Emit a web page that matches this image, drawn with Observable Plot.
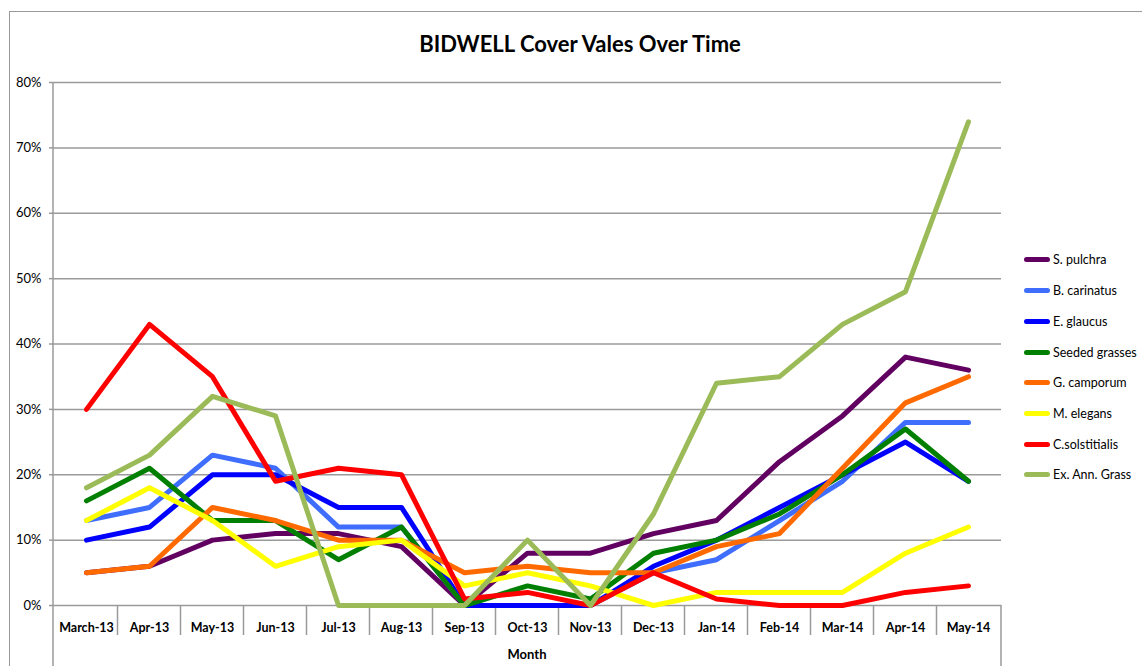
<!DOCTYPE html>
<html><head><meta charset="utf-8">
<script src="https://cdn.jsdelivr.net/npm/d3@7"></script>
<script src="https://cdn.jsdelivr.net/npm/@observablehq/plot@0.6"></script>
<style>
body{margin:0;background:#fff;font-family:Lato, "Liberation Sans", sans-serif;}
#wrap{position:relative;width:1142px;height:666px;overflow:hidden;background:#fff;}
#chart{position:absolute;left:0;top:0;}
#border{position:absolute;left:9px;top:11px;width:1200px;height:700px;border:1.5px solid #9a9a9a;box-sizing:border-box;pointer-events:none;}
#title{position:absolute;left:330px;width:500px;top:30px;text-align:center;font-weight:bold;font-size:22px;color:#000;}
#legend{position:absolute;left:1024px;top:244.6px;}
.item{height:30.7px;display:flex;align-items:center;font-size:12.5px;color:#000;white-space:nowrap;}
.sw{width:26px;height:5px;border-radius:3px;margin-right:3px;}
</style>
</head><body>
<div id="wrap">
  <div id="chart"></div>
  <div id="border"></div>
  <div id="title">BIDWELL Cover Vales Over Time</div>
  <div id="legend"></div>
</div>
<script>
// ---- data ----
const months = ["March-13","Apr-13","May-13","Jun-13","Jul-13","Aug-13","Sep-13","Oct-13","Nov-13","Dec-13","Jan-14","Feb-14","Mar-14","Apr-14","May-14"];
const seriesNames = ["S. pulchra","B. carinatus","E. glaucus","Seeded grasses","G. camporum","M. elegans","C.solstitialis","Ex. Ann. Grass"];
const sPulchra   = [5, 6, 10, 11, 11, 9, 0, 8, 8, 11, 13, 22, 29, 38, 36];
const bCarinatus = [13, 15, 23, 21, 12, 12, 0, 0, 0, 5, 7, 13, 19, 28, 28];
const eGlaucus   = [10, 12, 20, 20, 15, 15, 0, 0, 0, 6, 10, 15, 20, 25, 19];
const seededGrasses = [16, 21, 13, 13, 7, 12, 0, 3, 1, 8, 10, 14, 20, 27, 19];
const gCamporum  = [5, 6, 15, 13, 10, 10, 5, 6, 5, 5, 9, 11, 21, 31, 35];
const mElegans   = [13, 18, 13, 6, 9, 10, 3, 5, 3, 0, 2, 2, 2, 8, 12];
const cSolstitialis = [30, 43, 35, 19, 21, 20, 1, 2, 0, 5, 1, 0, 0, 2, 3];
const exAnnGrass = [18, 23, 32, 29, 0, 0, 0, 10, 0, 14, 34, 35, 43, 48, 74];
const yTicks = [0, 10, 20, 30, 40, 50, 60, 70, 80];
const xLabel = "Month";

// ---- styles ----
const seriesColors = ["#620062","#3F6EFE","#0000FF","#007F00","#FF6A00","#FFFF00","#FF0000","#9BBB59"];
const seriesValues = [sPulchra, bCarinatus, eGlaucus, seededGrasses, gCamporum, mElegans, cSolstitialis, exAnnGrass];

const tables = seriesValues.map((vals, i) => months.map((m, j) => ({series: seriesNames[i], month: m, value: vals[j]})));

function frameMark(index, scales, values, dims) {
  const {width, height, marginLeft, marginRight} = dims;
  const x = scales.x, y = scales.y;
  const step = x(months[1]) - x(months[0]);
  const y0 = y(0);
  const g = d3.create("svg:g");
  const lines = g.append("g").attr("stroke", "#9a9a9a").attr("stroke-width", 1.5);
  lines.append("line").attr("x1", marginLeft).attr("x2", marginLeft).attr("y1", y(80)).attr("y2", height);
  lines.append("line").attr("x1", width - marginRight).attr("x2", width - marginRight).attr("y1", y0).attr("y2", height);
  months.slice(1).forEach(m => {
    const xx = x(m) - step / 2;
    lines.append("line").attr("x1", xx).attr("x2", xx).attr("y1", y0).attr("y2", y0 + 30);
  });
  g.append("text")
    .attr("x", (marginLeft + width - marginRight) / 2)
    .attr("y", height - 7)
    .attr("text-anchor", "middle")
    .attr("font-weight", "bold")
    .attr("font-size", 13)
    .attr("fill", "#000")
    .text(xLabel);
  return g.node();
}

const chart = Plot.plot({
  width: 1142, height: 666,
  marginLeft: 53, marginRight: 141, marginTop: 82, marginBottom: 61,
  style: {background: "transparent", fontFamily: "Lato, 'Liberation Sans', sans-serif", fontSize: "12px", color: "#000"},
  x: {type: "point", domain: months, padding: 0.5, label: null},
  y: {domain: [0, 80], label: null},
  marks: [
    Plot.gridY({ticks: yTicks, stroke: "#9a9a9a", strokeOpacity: 1, strokeWidth: 1.5}),
    Plot.axisY({ticks: yTicks, tickSize: 4, tickPadding: 8, tickFormat: d => d + "%", stroke: "#9a9a9a", strokeWidth: 1.5, fill: "#000", fontSize: 13, label: null}),
    Plot.axisX({tickSize: 0, tickPadding: 18, fontWeight: "bold", fontSize: 12.5, fill: "#000", label: null}),
    frameMark,
    ...tables.map((t, i) => Plot.line(t, {x: "month", y: "value", stroke: seriesColors[i], strokeWidth: 5, strokeLinejoin: "round", strokeLinecap: "round"}))
  ]
});
document.getElementById("chart").appendChild(chart);

const legend = d3.select("#legend");
seriesNames.forEach((name, i) => {
  const it = legend.append("div").attr("class", "item");
  it.append("div").attr("class", "sw").style("background", seriesColors[i]);
  it.append("span").text(name);
});
</script>
</body></html>
